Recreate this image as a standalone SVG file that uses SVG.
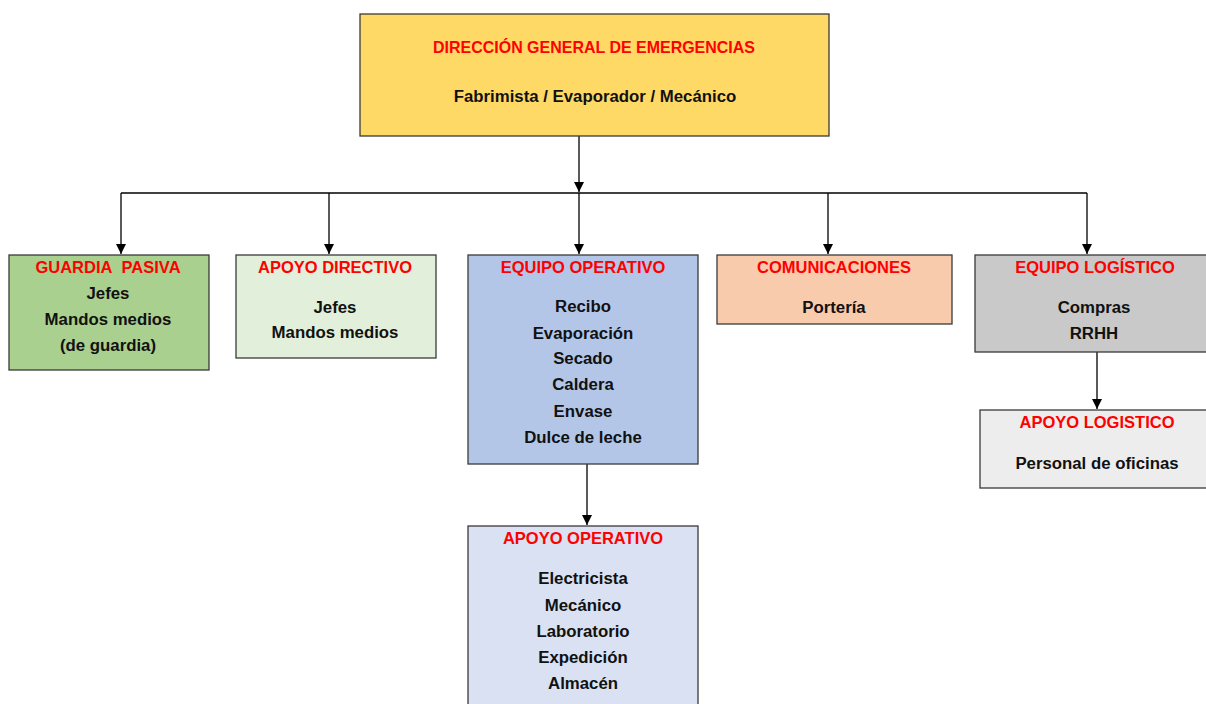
<svg xmlns="http://www.w3.org/2000/svg" width="1206" height="704" viewBox="0 0 1206 704">
<defs>
<marker id="arr" viewBox="0 0 10 10" refX="10" refY="5" markerWidth="10" markerHeight="10" markerUnits="userSpaceOnUse" orient="auto">
<path d="M0,0 L10,5 L0,10 z" fill="#000"/>
</marker>
<style>
.box{stroke:#3a3a3a;stroke-width:1.3}
.t{font-family:"Liberation Sans",Arial,sans-serif;font-weight:bold;font-size:16.5px;text-anchor:middle}
.r{fill:#ff0000}
.k{fill:#111;font-size:16.8px}
.c{stroke:#000;stroke-width:1.3;fill:none}
</style>
</defs>
<rect width="1206" height="704" fill="#fff"/>
<g id="connectors">
<path class="c" d="M579,136 V192" marker-end="url(#arr)"/>
<path class="c" d="M121,193 H1087" stroke="#555"/>
<path class="c" d="M121,193 V254" marker-end="url(#arr)"/>
<path class="c" d="M329,193 V254" marker-end="url(#arr)"/>
<path class="c" d="M579,193 V254" marker-end="url(#arr)"/>
<path class="c" d="M828,193 V254" marker-end="url(#arr)"/>
<path class="c" d="M1087,193 V254" marker-end="url(#arr)"/>
<path class="c" d="M587,464 V525" marker-end="url(#arr)"/>
<path class="c" d="M1097,352 V409" marker-end="url(#arr)"/>
</g>
<g id="direccion">
<rect class="box" x="360" y="14" width="469" height="122" fill="#FFD966"/>
<text class="t r" x="594" y="53" textLength="322" lengthAdjust="spacingAndGlyphs">DIRECCIÓN GENERAL DE EMERGENCIAS</text>
<text class="t k" x="595" y="102">Fabrimista / Evaporador / Mecánico</text>
</g>
<g id="guardia">
<rect class="box" x="9" y="255" width="200" height="115" fill="#A9D08E"/>
<text class="t r" x="108" y="273">GUARDIA&#160; PASIVA</text>
<text class="t k" x="108" y="299">Jefes</text>
<text class="t k" x="108" y="325">Mandos medios</text>
<text class="t k" x="108" y="351">(de guardia)</text>
</g>
<g id="apoyo-directivo">
<rect class="box" x="236" y="255" width="200" height="103" fill="#E2EFDA"/>
<text class="t r" x="335" y="273">APOYO DIRECTIVO</text>
<text class="t k" x="335" y="313">Jefes</text>
<text class="t k" x="335" y="338">Mandos medios</text>
</g>
<g id="equipo-operativo">
<rect class="box" x="468" y="255" width="230" height="209" fill="#B4C6E7"/>
<text class="t r" x="583" y="273">EQUIPO OPERATIVO</text>
<text class="t k" x="583" y="312">Recibo</text>
<text class="t k" x="583" y="339">Evaporación</text>
<text class="t k" x="583" y="364">Secado</text>
<text class="t k" x="583" y="390">Caldera</text>
<text class="t k" x="583" y="417">Envase</text>
<text class="t k" x="583" y="443">Dulce de leche</text>
</g>
<g id="apoyo-operativo">
<rect class="box" x="468" y="526" width="230" height="190" fill="#D9E1F2"/>
<text class="t r" x="583" y="544">APOYO OPERATIVO</text>
<text class="t k" x="583" y="584">Electricista</text>
<text class="t k" x="583" y="611">Mecánico</text>
<text class="t k" x="583" y="637">Laboratorio</text>
<text class="t k" x="583" y="663">Expedición</text>
<text class="t k" x="583" y="689">Almacén</text>
</g>
<g id="comunicaciones">
<rect class="box" x="717" y="255" width="235" height="69" fill="#F8CBAD"/>
<text class="t r" x="834" y="273">COMUNICACIONES</text>
<text class="t k" x="834" y="313">Portería</text>
</g>
<g id="equipo-logistico">
<rect class="box" x="975" y="255" width="240" height="97" fill="#C9C9C9"/>
<text class="t r" x="1095" y="273">EQUIPO LOGÍSTICO</text>
<text class="t k" x="1094" y="313">Compras</text>
<text class="t k" x="1094" y="339">RRHH</text>
</g>
<g id="apoyo-logistico">
<rect class="box" x="980" y="410" width="235" height="78" fill="#EDEDED"/>
<text class="t r" x="1097" y="428">APOYO LOGISTICO</text>
<text class="t k" x="1097" y="469">Personal de oficinas</text>
</g>
</svg>
